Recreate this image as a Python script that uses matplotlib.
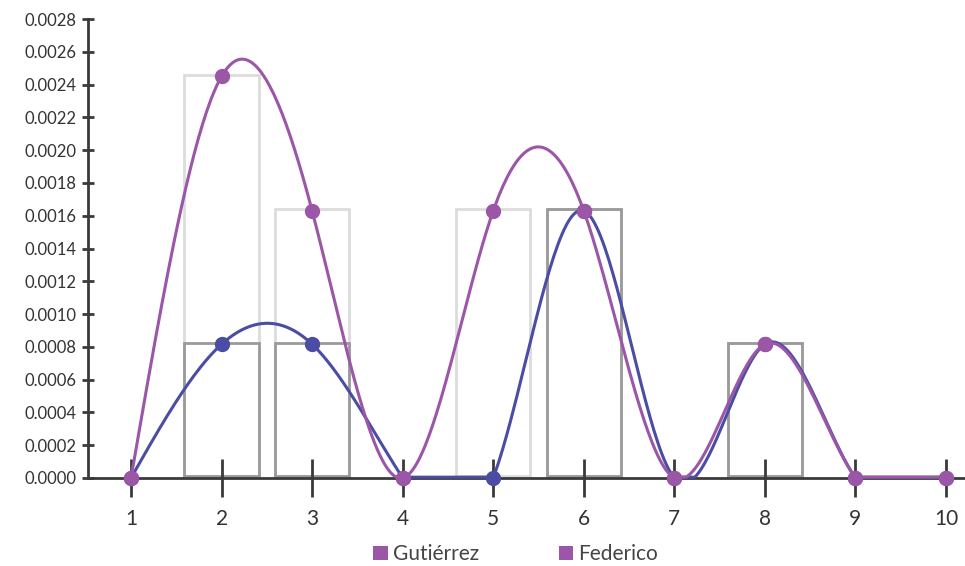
import matplotlib
matplotlib.use('Agg')
import matplotlib.pyplot as plt
from matplotlib.patches import Patch
import numpy as np

plt.rcParams['font.family'] = ['Lato', 'DejaVu Sans']

x = np.arange(1, 11)
gutierrez = [0, 0.000816, 0.000816, 0, 0, 0.00163, 0, 0.000816, 0, 0]
federico = [0, 0.00245, 0.00163, 0, 0.00163, 0.00163, 0, 0.000816, 0, 0]
names = ['Gutiérrez', 'Federico']
yticks = np.arange(0, 0.00281, 0.0002)

c_gut = '#4b4ca3'
c_fed = '#9b56a8'


def natural_spline(xs, ys, n=400):
    # natural cubic spline, the same smoothing the original chart uses
    xs = np.asarray(xs, float)
    ys = np.asarray(ys, float)
    k = len(xs)
    h = np.diff(xs)
    A = np.zeros((k, k))
    r = np.zeros(k)
    A[0, 0] = A[-1, -1] = 1
    for i in range(1, k - 1):
        A[i, i - 1] = h[i - 1]
        A[i, i] = 2 * (h[i - 1] + h[i])
        A[i, i + 1] = h[i]
        r[i] = 6 * ((ys[i + 1] - ys[i]) / h[i] - (ys[i] - ys[i - 1]) / h[i - 1])
    M = np.linalg.solve(A, r)
    xx = np.linspace(xs[0], xs[-1], n)
    idx = np.clip(np.searchsorted(xs, xx) - 1, 0, k - 2)
    x0, x1 = xs[idx], xs[idx + 1]
    hh = x1 - x0
    a = (x1 - xx) / hh
    b = (xx - x0) / hh
    yy = a * ys[idx] + b * ys[idx + 1] + ((a ** 3 - a) * M[idx] + (b ** 3 - b) * M[idx + 1]) * hh ** 2 / 6
    return xx, yy


fig = plt.figure(figsize=(9.65, 5.66), dpi=100)
ax = fig.add_axes([0.0912, 0.1555, 0.9088, 0.8109])

# outlined bars (empty ones are not drawn)
for vals, col in [(federico, '#dcdcdc'), (gutierrez, '#9a9a9a')]:
    v = np.array(vals)
    m = v > 0
    ax.bar(x[m], v[m], width=0.82, bottom=0.00001, facecolor='none', edgecolor=col, linewidth=2, zorder=1)

# smoothed lines (clipped at zero like the original) with markers
for vals, col, z in [(gutierrez, c_gut, 3), (federico, c_fed, 4)]:
    sx, sy = natural_spline(x, vals)
    ax.plot(sx, np.maximum(sy, 0.000005), color=col, linewidth=2.2, zorder=z, solid_capstyle='round', clip_on=False)
    ax.plot(x, vals, 'o', color=col, markersize=10, zorder=z, clip_on=False)

ax.set_xlim(0.525, 10.21)
ax.set_ylim(0, 0.0028)
ax.set_xticks(x)
ax.set_yticks(yticks)
ax.set_yticklabels(['%.4f' % v for v in yticks])

for s in ['top', 'right']:
    ax.spines[s].set_visible(False)
for s in ['left', 'bottom']:
    ax.spines[s].set_color('#3a3a3a')
    ax.spines[s].set_linewidth(2)
    ax.spines[s].set_zorder(2)

ax.tick_params(axis='y', direction='inout', length=8, width=2, color='#3a3a3a', labelsize=12, labelcolor='#333333', pad=4)
ax.tick_params(axis='x', direction='inout', length=28, width=2, color='#3a3a3a', labelsize=15, labelcolor='#333333', pad=8)

handles = [Patch(facecolor=c_fed, edgecolor='none') for _ in names]
fig.legend(handles, names, loc='lower center', bbox_to_anchor=(0.5345, -0.03), ncol=2, frameon=False,
           fontsize=15, labelcolor='#444444', handlelength=0.7, handleheight=0.7, handletextpad=0.25, columnspacing=3.8)

fig.savefig('out.png', dpi=100)
